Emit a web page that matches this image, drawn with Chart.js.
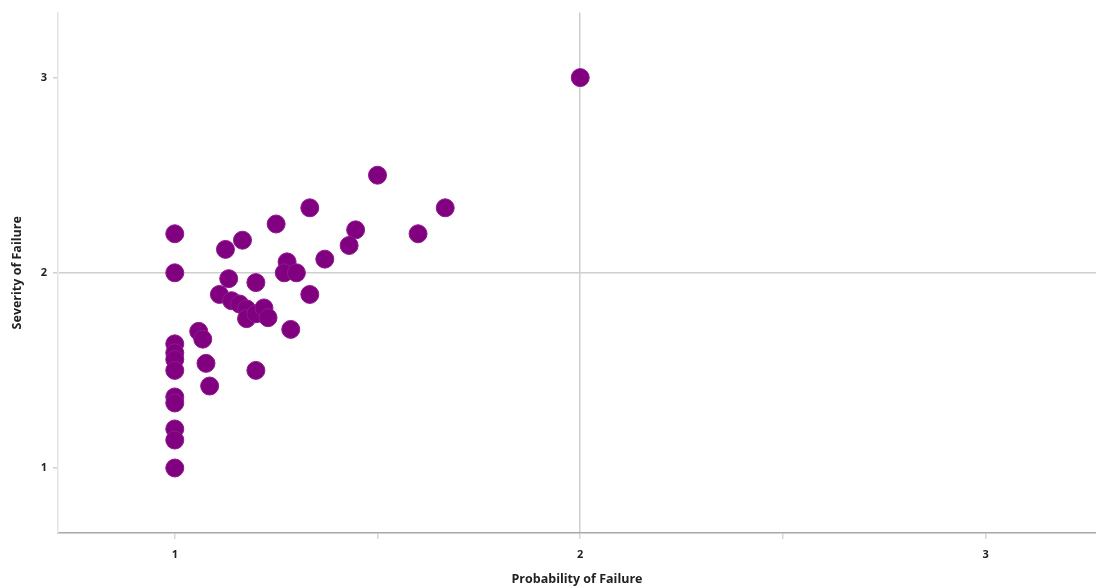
<!DOCTYPE html>
<html>
<head>
<meta charset="utf-8">
<script src="https://cdn.jsdelivr.net/npm/chart.js@4.4.1/dist/chart.umd.min.js"></script>
<style>
  html, body { margin: 0; padding: 0; background: #fff; }
  #wrap { width: 1096px; height: 587px; }
</style>
</head>
<body>
<div id="wrap"><canvas id="chart" width="1096" height="587"></canvas></div>
<script>
// --- DATA ---
const probability = [
  1, 1, 1, 1, 1, 1, 1, 1, 1, 1, 1,
  1.059, 1.069, 1.077, 1.086, 1.2, 1.286,
  1.125, 1.167, 1.25, 1.333, 1.133, 1.2, 1.277, 1.27, 1.3, 1.37,
  1.333, 1.11, 1.14, 1.16, 1.177, 1.177, 1.2, 1.22, 1.23,
  1.5, 1.446, 1.43, 1.6, 1.667, 2
];
const severity = [
  2.2, 2.0, 1.636, 1.59, 1.556, 1.5, 1.364, 1.333, 1.2, 1.143, 1.0,
  1.70, 1.66, 1.536, 1.42, 1.5, 1.71,
  2.12, 2.167, 2.25, 2.333, 1.97, 1.95, 2.056, 2.0, 2.0, 2.07,
  1.889, 1.889, 1.857, 1.84, 1.815, 1.765, 1.79, 1.82, 1.77,
  2.5, 2.22, 2.14, 2.2, 2.333, 3
];
const xTicks = [1, 1.5, 2, 2.5, 3];
const yTicks = [1, 2, 3];
const gridAt = 2;

const points = probability.map((x, i) => ({ x: x, y: severity[i] }));

const labelFont = { family: 'Open Sans', size: 11, weight: 'bold' };
const titleFont = { family: 'Open Sans', size: 12.5, weight: 'bold' };

new Chart(document.getElementById('chart'), {
  type: 'scatter',
  data: {
    datasets: [{
      data: points,
      backgroundColor: '#800080',
      borderColor: '#8d1a8d',
      borderWidth: 1,
      pointRadius: 9,
      pointHoverRadius: 9
    }]
  },
  options: {
    responsive: false,
    animation: false,
    layout: { autoPadding: false, padding: { top: 12, right: 0, left: 0, bottom: 0 } },
    plugins: { legend: { display: false }, tooltip: { enabled: false } },
    scales: {
      x: {
        type: 'linear',
        min: 0.712,
        max: 3.272,
        afterBuildTicks: (s) => { s.ticks = xTicks.map(v => ({ value: v })); },
        afterFit: (s) => { s.height = 54; },
        border: { color: '#a8a8a8', width: 1.5 },
        grid: {
          color: (c) => c.tick && c.tick.value === gridAt ? '#cfcfcf' : 'rgba(0,0,0,0)',
          lineWidth: 1.5,
          tickColor: '#d8d8d8',
          tickLength: 6
        },
        ticks: {
          color: '#222',
          font: labelFont,
          padding: 9,
          callback: (v) => Number.isInteger(v) ? String(v) : ''
        },
        title: {
          display: true,
          text: 'Probability of Failure',
          color: '#222',
          font: titleFont,
          padding: { top: 6, bottom: 0 }
        }
      },
      y: {
        type: 'linear',
        min: 0.667,
        max: 3.333,
        afterBuildTicks: (s) => { s.ticks = yTicks.map(v => ({ value: v })); },
        afterFit: (s) => { s.width = 58; },
        border: { color: '#e4e4e4', width: 1.5 },
        grid: {
          color: (c) => c.tick && c.tick.value === gridAt ? '#cfcfcf' : 'rgba(0,0,0,0)',
          lineWidth: 1.5,
          tickColor: '#d0d0d0',
          tickLength: 5
        },
        ticks: {
          color: '#222',
          font: labelFont,
          padding: 6
        },
        title: {
          display: true,
          text: 'Severity of Failure',
          color: '#222',
          font: titleFont,
          padding: { top: 10, bottom: 4 }
        }
      }
    }
  }
});
</script>
</body>
</html>
